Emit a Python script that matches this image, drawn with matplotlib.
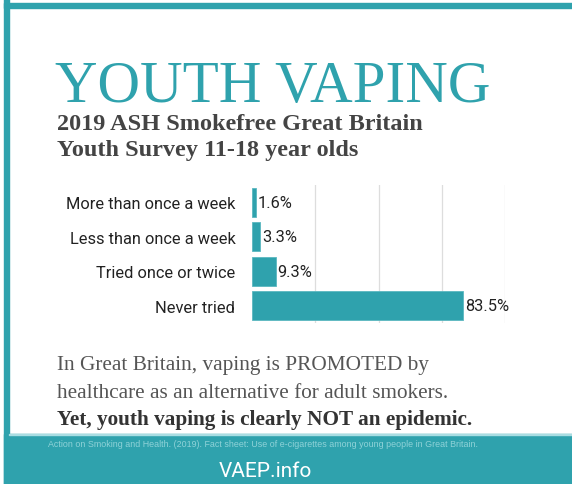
import matplotlib.pyplot as plt
from matplotlib.patches import Rectangle

# ---------- data ----------
categories = ["More than once a week", "Less than once a week",
              "Tried once or twice", "Never tried"]
values = [1.6, 3.3, 9.3, 83.5]
value_labels = ["1.6%", "3.3%", "9.3%", "83.5%"]
grid_ticks = [25, 50, 75, 100]

title = "YOUTH VAPING"
subtitle = ["2019 ASH Smokefree Great Britain", "Youth Survey 11-18 year olds"]
para = ["In Great Britain, vaping is PROMOTED by",
        "healthcare as an alternative for adult smokers."]
para_bold = "Yet, youth vaping is clearly NOT an epidemic."
source = ("Action on Smoking and Health. (2019). Fact sheet: Use of "
          "e-cigarettes among young people in Great Britain.")
brand = "VAEP.info"

TEAL = "#2fa2ad"
W, H = 572, 485

fig = plt.figure(figsize=(W / 100, H / 100), dpi=100)


def fx(x):
    return x / W


def fy(y):
    return 1 - y / H


# ---------- frame ----------
fig.patches.append(Rectangle((fx(4), fy(9)), 1, 5 / H, transform=fig.transFigure,
                             color=TEAL, zorder=0))
fig.patches.append(Rectangle((fx(4), 0), 5 / W, 1, transform=fig.transFigure,
                             color=TEAL, zorder=0))
fig.patches.append(Rectangle((fx(4), 0), 1, fy(435), transform=fig.transFigure,
                             color=TEAL, zorder=0))
fig.patches.append(Rectangle((fx(9), fy(436)), 1, 1.2 / H, transform=fig.transFigure,
                             color="#a9dde2", zorder=1))

# ---------- headings ----------
fig.text(fx(55), fy(102), title, family="Liberation Serif", fontsize=42.5,
         color=TEAL, va="baseline")
for i, line in enumerate(subtitle):
    fig.text(fx(57), fy(130 + i * 26), line, family="Liberation Serif",
             fontweight="bold", fontsize=17.5, color="#444444", va="baseline")

# ---------- bar chart ----------
ax = fig.add_axes([fx(252), fy(324), (505 - 252) / W, 138 / H])
ypos = range(len(categories))
ax.barh(ypos, values, height=0.84, color=TEAL, edgecolor="#5bb7c0",
        linewidth=0.6, zorder=3)
ax.set_xlim(0, 100)
ax.set_ylim(3.5, -0.5)
for t in grid_ticks:
    ax.axvline(t, color="#dddddd", linewidth=0.9, zorder=1)
for y, v, lab in zip(ypos, values, value_labels):
    ax.text(v + 0.8, y, lab, family="Roboto", fontsize=11.8, color="#222222",
            va="center", ha="left")
ax.set_yticks(list(ypos))
ax.set_yticklabels(categories, family="Roboto", fontsize=11.8, color="#222222")
ax.tick_params(axis="y", length=0, pad=12)
ax.set_xticks([])
for s in ax.spines.values():
    s.set_visible(False)

# ---------- paragraph ----------
for i, line in enumerate(para):
    fig.text(fx(57), fy(370 + i * 28), line, family="Liberation Serif",
             fontsize=15.3, color="#555555", va="baseline")
fig.text(fx(57), fy(425), para_bold, family="Liberation Serif", fontweight="bold",
         fontsize=15.3, color="#333333", va="baseline")

# ---------- footer ----------
fig.text(fx(263), fy(447), source, family="Liberation Sans", fontsize=6.4,
         color="#8fd2d8", ha="center", va="baseline")
fig.text(fx(265), fy(477), brand, family="Roboto", fontsize=15,
         color="white", ha="center", va="baseline")

fig.savefig("out.png", dpi=100)
